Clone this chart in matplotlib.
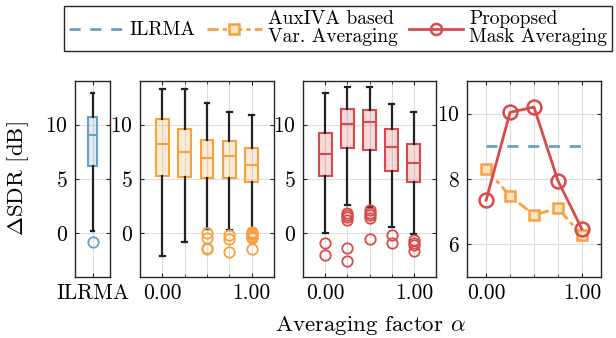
import matplotlib
matplotlib.use("Agg")
import matplotlib.pyplot as plt
from matplotlib.lines import Line2D
from matplotlib.ticker import FixedLocator

plt.rcParams['font.family'] = 'cmr10'
plt.rcParams['mathtext.fontset'] = 'cm'
plt.rcParams['axes.unicode_minus'] = False
plt.rcParams['axes.formatter.use_mathtext'] = True

# averaging factors
alphas = [0.0, 0.25, 0.5, 0.75, 1.0]

# box statistics (dB)
ilrma_stats = dict(med=9.0, q1=6.2, q3=10.65, whislo=0.25, whishi=12.9, fliers=[-0.8])

aux_med = [8.25, 7.48, 6.9, 7.08, 6.28]
aux_q1 = [5.3, 5.15, 5.1, 5.1, 4.68]
aux_q3 = [10.55, 9.63, 8.55, 8.46, 7.8]
aux_lo = [-2.06, -0.77, 0.4, 0.3, 0.4]
aux_hi = [13.26, 13.23, 12.0, 11.17, 10.9]
aux_fliers = [[], [],
              [0.03, -0.46, -1.3, -1.45],
              [-0.12, -0.52, -1.7],
              [0.15, 0.05, -0.06, -0.2, -0.3, -0.46, -1.4]]

mask_med = [7.32, 10.06, 10.2, 7.94, 6.46]
mask_q1 = [5.28, 7.85, 7.69, 5.77, 4.74]
mask_q3 = [9.23, 11.38, 11.32, 9.6, 8.25]
mask_lo = [0.06, 2.58, 2.46, 0.6, -0.06]
mask_hi = [12.92, 13.45, 13.45, 11.85, 11.17]
mask_fliers = [[-0.9, -1.97],
               [1.9, 1.7, 1.48, 1.23, -1.38, -2.5],
               [2.15, 1.9, 1.7, 1.38, -0.55],
               [-0.15, -0.9],
               [-0.6, -0.86, -1.1, -1.6]]

# medians for the last panel
ilrma_median = 9.0
aux_line = [8.3, 7.48, 6.9, 7.1, 6.28]
mask_line = [7.35, 10.04, 10.2, 7.95, 6.47]

blue = '#6c9fc4'
orange = '#f9a03f'
red = '#d94a4a'
spine = '#262626'
dashdot = (4, 1.5, 1.5, 1.5)


def make_stats(med, q1, q3, lo, hi, fl):
    return [dict(med=m, q1=a, q3=b, whislo=l, whishi=h, fliers=f)
            for m, a, b, l, h, f in zip(med, q1, q3, lo, hi, fl)]


def style_axes(ax):
    for s in ax.spines.values():
        s.set_color(spine)
        s.set_linewidth(1.0)
    ax.tick_params(which='both', direction='in', top=True, right=True,
                   labelsize=15.5, length=3, color=spine, pad=5)
    ax.tick_params(which='minor', length=2)
    ax.grid(True, which='both', color='#dddddd', linewidth=0.8)
    ax.set_axisbelow(True)


def draw_boxes(ax, stats, pos, color, width, capw):
    ax.bxp(stats, positions=pos, widths=width, capwidths=capw,
           patch_artist=True,
           boxprops=dict(facecolor=color + '33', edgecolor=color, linewidth=1.5),
           medianprops=dict(color=color, linewidth=1.5),
           whiskerprops=dict(color='#222222', linewidth=1.6),
           capprops=dict(color='#222222', linewidth=1.6),
           flierprops=dict(marker='o', markerfacecolor='none', markeredgecolor=color,
                           markersize=7.5, markeredgewidth=1.3))


fig = plt.figure(figsize=(6.16, 3.38), dpi=100)
bottom, height = 0.1805, 0.58
ax1 = fig.add_axes([0.1218, bottom, 0.0568, height])
ax2 = fig.add_axes([0.2273, bottom, 0.2175, height])
ax3 = fig.add_axes([0.4919, bottom, 0.2159, height])
ax4 = fig.add_axes([0.7581, bottom, 0.2175, height])

# ILRMA
style_axes(ax1)
draw_boxes(ax1, [ilrma_stats], [1], blue, 0.27, 0.1)
ax1.set_xlim(0.5, 1.5)
ax1.set_xticks([1])
ax1.set_xticklabels(['ILRMA'])
ax1.set_ylim(-4, 14)
ax1.set_yticks([0, 5, 10])

for ax, stats, color in [
        (ax2, make_stats(aux_med, aux_q1, aux_q3, aux_lo, aux_hi, aux_fliers), orange),
        (ax3, make_stats(mask_med, mask_q1, mask_q3, mask_lo, mask_hi, mask_fliers), red)]:
    style_axes(ax)
    draw_boxes(ax, stats, alphas, color, 0.145, 0.055)
    ax.set_xlim(-0.25, 1.25)
    ax.set_ylim(-4, 14)
    ax.set_yticks([0, 5, 10])

# medians
style_axes(ax4)
ax4.plot([alphas[0], alphas[-1]], [ilrma_median, ilrma_median], '--', color=blue,
         linewidth=2, dashes=(4, 3.5))
ax4.plot(alphas, aux_line, '-.', color=orange, linewidth=2, marker='s', dashes=dashdot,
         markersize=7, markerfacecolor='#fde3c4', markeredgewidth=1.8)
ax4.plot(alphas, mask_line, '-', color=red, linewidth=2, marker='o',
         markersize=10, markerfacecolor='none', markeredgewidth=1.8)
ax4.set_xlim(-0.2, 1.2)
ax4.set_ylim(5, 11)
ax4.set_yticks([6, 8, 10])

for ax in (ax2, ax3, ax4):
    ax.set_xticks([0, 1])
    ax.set_xticklabels(['0.00', '1.00'])
    ax.xaxis.set_minor_locator(FixedLocator([0.25, 0.5, 0.75]))

fig.text(370 / 616, 0.036, r'Averaging factor $\alpha$', ha='center', va='center', fontsize=16.5)
fig.text(18 / 616, 0.47, r'$\Delta$SDR [dB]', ha='center', va='center', rotation=90, fontsize=16.5)

handles = [
    Line2D([], [], color=blue, linestyle='--', linewidth=2, dashes=(4, 3.5)),
    Line2D([], [], color=orange, linestyle='-.', linewidth=2, marker='s', markersize=7,
           dashes=dashdot, markerfacecolor='#fde3c4', markeredgewidth=1.8),
    Line2D([], [], color=red, linestyle='-', linewidth=2, marker='o', markersize=8,
           markerfacecolor='none', markeredgewidth=1.8),
]
labels = ['ILRMA', 'AuxIVA based\nVar. Averaging', 'Propopsed\nMask Averaging']
leg = fig.legend(handles, labels, loc='center', bbox_to_anchor=(0.549, 0.916), ncol=3,
                 fontsize=14, frameon=True, fancybox=False, edgecolor=spine,
                 framealpha=1, handlelength=2.8, handletextpad=0.3, columnspacing=0.6,
                 borderpad=0.25, labelspacing=0.1)
leg.get_frame().set_linewidth(1.0)
for t in leg.get_texts():
    t.set_linespacing(1.0)

fig.savefig('out.png', dpi=100)
